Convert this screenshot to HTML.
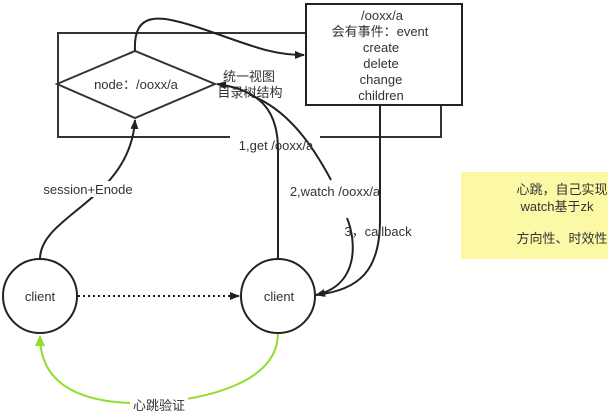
<!DOCTYPE html>
<html><head><meta charset="utf-8"><style>
body{margin:0;background:#fff;}
svg{display:block;font-family:"Liberation Sans","Noto Sans CJK SC",sans-serif;}
text{fill:#333;font-size:13px;}
</style></head><body>
<svg width="608" height="415" viewBox="0 0 608 415">
<defs>
<marker id="a" markerWidth="10" markerHeight="10" refX="9" refY="5" orient="auto" markerUnits="userSpaceOnUse"><path d="M0,1 L10,5 L0,9 Z" fill="#222"/></marker>
<marker id="g" markerWidth="12" markerHeight="12" refX="10" refY="6" orient="auto" markerUnits="userSpaceOnUse"><path d="M0,1 L11,6 L0,11 Z" fill="#8ede2a"/></marker>
</defs>
<rect x="461" y="172" width="147" height="87" fill="#fbf8a6"/>
<text x="562" y="194" text-anchor="middle">心跳，自己实现</text>
<text x="557" y="211" text-anchor="middle">watch基于zk</text>
<text x="562" y="243" text-anchor="middle">方向性、时效性</text>
<rect x="58" y="33" width="383" height="104" fill="none" stroke="#333" stroke-width="2"/>
<rect x="230" y="130" width="90" height="14" fill="#fff"/>
<rect x="306" y="4" width="156" height="101" fill="#fff" stroke="#222" stroke-width="2"/>
<text x="382" y="20" text-anchor="middle">/ooxx/a</text>
<text x="380" y="36" text-anchor="middle">会有事件：event</text>
<text x="381" y="52" text-anchor="middle">create</text>
<text x="381" y="68" text-anchor="middle">delete</text>
<text x="381" y="84" text-anchor="middle">change</text>
<text x="381" y="100" text-anchor="middle">children</text>
<polygon points="57,84 135,51 215,84 135,118" fill="#fff" stroke="#333" stroke-width="2"/>
<text x="136" y="89" text-anchor="middle">node：/ooxx/a</text>
<text x="249" y="81" text-anchor="middle">统一视图</text>
<text x="250" y="97" text-anchor="middle">目录树结构</text>
<path d="M135,51 C133,10 160,15 200,28 C250,45 270,55 304,55" fill="none" stroke="#222" stroke-width="2" marker-end="url(#a)"/>
<path d="M40,259 C40,215 130,200 135,120" fill="none" stroke="#222" stroke-width="2" marker-end="url(#a)"/>
<path d="M278,259 L278,150 C278,110 260,90 217,84" fill="none" stroke="#222" stroke-width="2" marker-end="url(#a)"/>
<path d="M250,95 C290,110 315,150 331,180" fill="none" stroke="#222" stroke-width="2"/>
<path d="M347,218 C356,240 360,285 316,295" fill="none" stroke="#222" stroke-width="2" marker-end="url(#a)"/>
<path d="M380,105 L380,220 C380,270 360,290 316,295" fill="none" stroke="#222" stroke-width="2"/>
<path d="M78,296 L239,296" fill="none" stroke="#222" stroke-width="2" stroke-dasharray="2,3" marker-end="url(#a)"/>
<path d="M278,333 C278,385 200,400 150,403 C90,405 40,390 40,336" fill="none" stroke="#8ede2a" stroke-width="2" marker-end="url(#g)"/>
<circle cx="40" cy="296" r="37" fill="#fff" stroke="#222" stroke-width="2"/>
<circle cx="278" cy="296" r="37" fill="#fff" stroke="#222" stroke-width="2"/>
<text x="40" y="301" text-anchor="middle">client</text>
<text x="279" y="301" text-anchor="middle">client</text>
<rect x="38" y="181" width="100" height="16" fill="#fff"/>
<text x="88" y="194" text-anchor="middle">session+Enode</text>
<text x="276" y="150" text-anchor="middle">1,get /ooxx/a</text>
<text x="335" y="196" text-anchor="middle">2,watch /ooxx/a</text>
<text x="378" y="236" text-anchor="middle">3，callback</text>
<rect x="130" y="397" width="58" height="16" fill="#fff"/>
<text x="159" y="410" text-anchor="middle">心跳验证</text>
</svg>
</body></html>
